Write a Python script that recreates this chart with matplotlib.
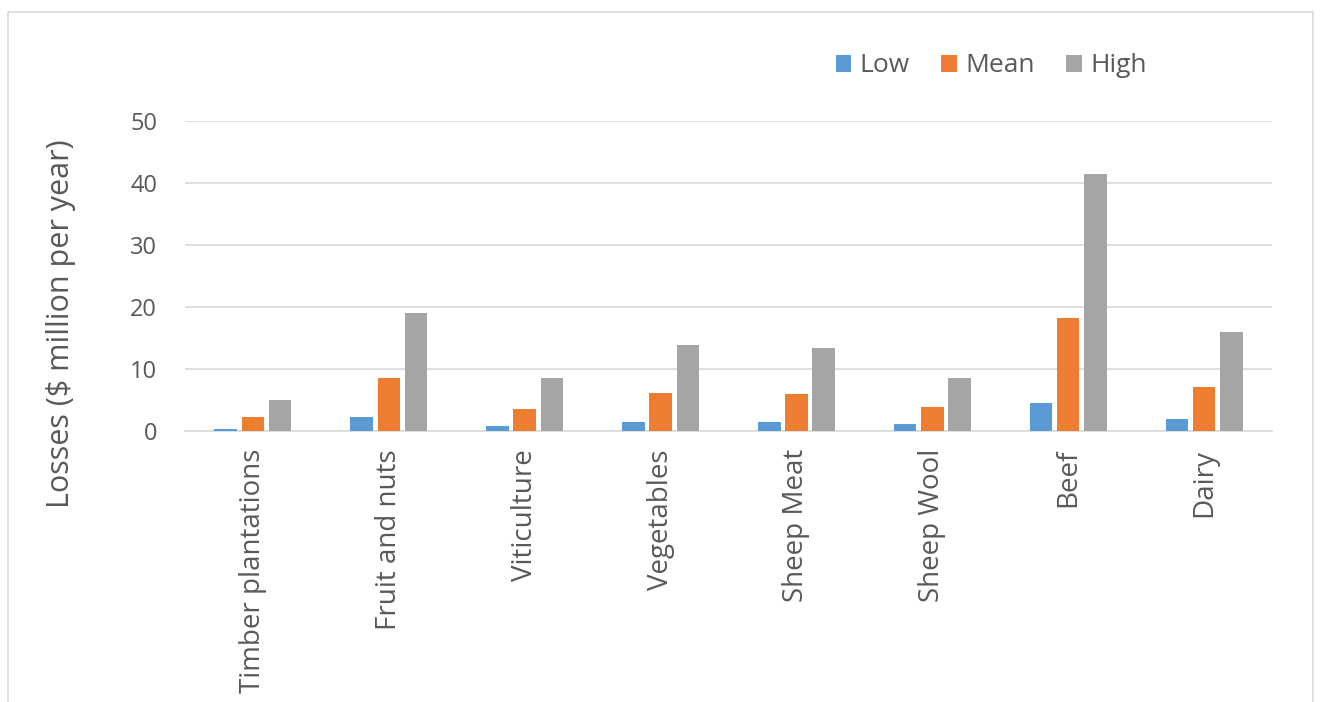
import numpy as np
import matplotlib.pyplot as plt
from matplotlib.patches import Rectangle

categories = ['Timber plantations', 'Fruit and nuts', 'Viticulture', 'Vegetables',
              'Sheep Meat', 'Sheep Wool', 'Beef', 'Dairy']
low = [0.4, 2.2, 0.8, 1.5, 1.45, 1.1, 4.6, 1.9]
mean = [2.2, 8.5, 3.6, 6.1, 6.0, 3.9, 18.3, 7.1]
high = [5.0, 19.1, 8.5, 13.8, 13.4, 8.5, 41.5, 15.9]

plt.rcParams['font.family'] = ['Open Sans', 'DejaVu Sans']
text_col = '#595959'

fig = plt.figure(figsize=(13.21, 7.02), dpi=100)
# light chart border like the Excel chart area
fig.patches.append(Rectangle((8 / 1321, -0.05), 1305 / 1321, 1.05 - 12 / 702,
                             transform=fig.transFigure, fill=False,
                             edgecolor='#d9d9d9', linewidth=1.2))
ax = fig.add_axes([0.140, 0.386, 0.823, 0.4416])

x = np.arange(len(categories))
w = 0.165
off = 0.2
ax.bar(x - off, low, w, color='#5B9BD5', label='Low', zorder=3)
ax.bar(x, mean, w, color='#ED7D31', label='Mean', zorder=3)
ax.bar(x + off, high, w, color='#A5A5A5', label='High', zorder=3)

ax.set_xlim(-0.5, len(categories) - 0.5)
ax.set_ylim(0, 50)
ax.set_yticks(range(0, 51, 10))
ax.yaxis.grid(True, color='#d9d9d9', linewidth=1.2, zorder=0)
for s in ['top', 'right', 'left']:
    ax.spines[s].set_visible(False)
ax.spines['bottom'].set_color('#d9d9d9')
ax.spines['bottom'].set_linewidth(1.2)
ax.tick_params(axis='y', length=0, labelsize=17, colors=text_col, pad=20)
ax.set_xticks(x)
ax.set_xticklabels(categories, rotation=90, va='top')
ax.tick_params(axis='x', length=0, labelsize=20, colors=text_col, pad=13)

fig.text(61 / 1321, 1 - 324 / 702, 'Losses ($ million per year)', rotation=90,
         ha='center', va='center', fontsize=22, color=text_col)

fig.legend(loc='center', bbox_to_anchor=(991 / 1321, 1 - 66 / 702), ncol=3,
           frameon=False, fontsize=19, handlelength=0.6, handleheight=0.6,
           handletextpad=0.3, columnspacing=1.2, labelcolor=text_col)

fig.savefig('out.png', dpi=100)
